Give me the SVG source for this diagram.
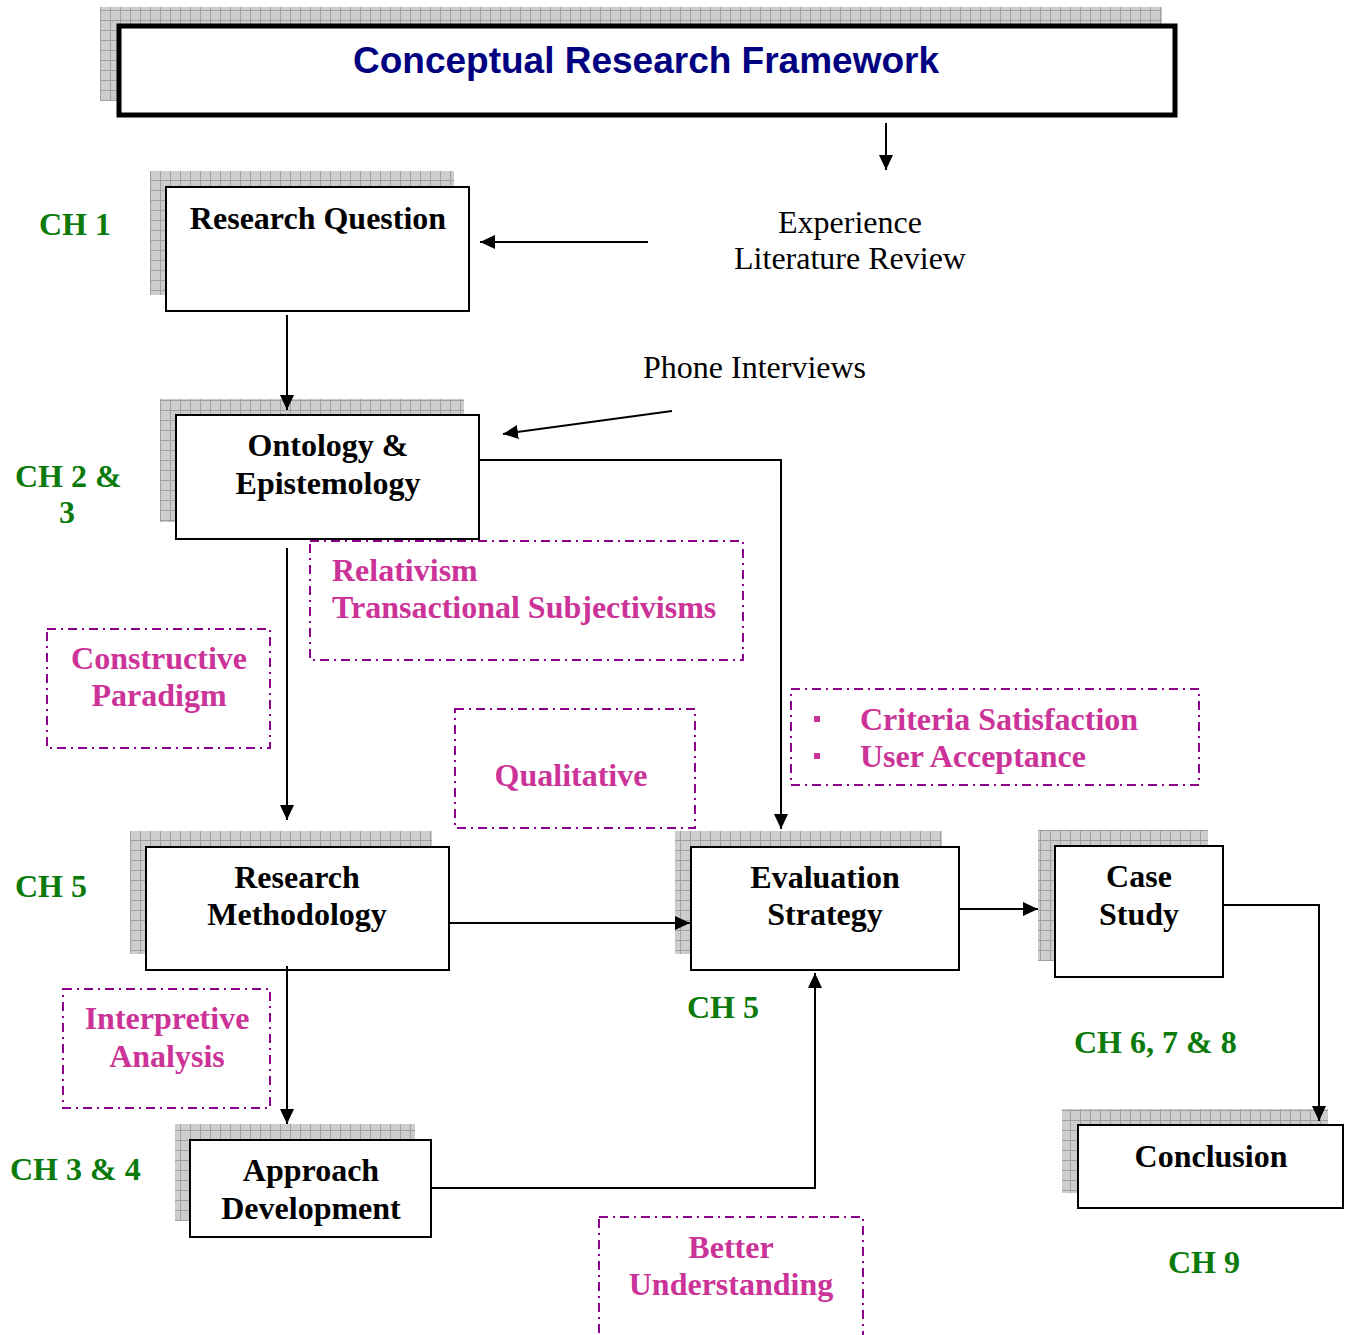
<svg xmlns="http://www.w3.org/2000/svg" width="1345" height="1335" viewBox="0 0 1345 1335">
<style>
  .box { fill: #fff; stroke: #000; stroke-width: 2; }
  .shadow { fill: url(#grid); }
  .node { font-family: "Liberation Serif", "Times New Roman", serif; font-weight: bold; font-size: 32px; fill: #000; text-anchor: middle; }
  .ch { font-family: "Liberation Serif", "Times New Roman", serif; font-weight: bold; font-size: 32px; fill: #0a7a0a; }
  .note { font-family: "Liberation Serif", "Times New Roman", serif; font-size: 32px; fill: #000; }
  .pink { font-family: "Liberation Serif", "Times New Roman", serif; font-weight: bold; font-size: 32px; fill: #cc3399; }
  .dash { fill: none; stroke: #8b008b; stroke-width: 2; stroke-dasharray: 9 5 2 5; }
  .conn { fill: none; stroke: #000; stroke-width: 2; }
</style>
<defs>
  <pattern id="grid" width="10" height="10" patternUnits="userSpaceOnUse">
    <rect width="10" height="10" fill="#cdcdcd"/>
    <path d="M0 0.5 H10 M0.5 0 V10" stroke="#a0a0a0" stroke-width="1"/>
  </pattern>
  <marker id="arr" viewBox="0 0 15 14" refX="15" refY="7" markerWidth="15" markerHeight="14" markerUnits="userSpaceOnUse" orient="auto">
    <path d="M0 0 L15 7 L0 14 Z" fill="#000"/>
  </marker>
</defs>

<!-- Title -->
<g id="title">
  <rect class="shadow" x="100" y="7" width="1062" height="94"/>
  <rect x="119" y="26" width="1056" height="89" fill="#fff" stroke="#000" stroke-width="5"/>
  <text x="646" y="73" font-family="Liberation Sans, Arial, sans-serif" font-weight="bold" font-size="37" fill="#000080" text-anchor="middle">Conceptual Research Framework</text>
</g>

<!-- Research Question -->
<g id="research-question">
  <rect class="shadow" x="150" y="171" width="304" height="124"/>
  <rect class="box" x="166" y="187" width="303" height="124"/>
  <text class="node" x="318" y="229">Research Question</text>
</g>

<g id="sources">
  <text class="note" x="850" y="233" text-anchor="middle">Experience</text>
  <text class="note" x="850" y="269" text-anchor="middle">Literature Review</text>
  <text class="note" x="643" y="378">Phone Interviews</text>
</g>

<!-- Ontology & Epistemology -->
<g id="ontology">
  <rect class="shadow" x="160" y="399" width="304" height="123"/>
  <rect class="box" x="176" y="415" width="303" height="124"/>
  <text class="node" x="328" y="456">Ontology &amp;</text>
  <text class="node" x="328" y="494">Epistemology</text>
</g>

<!-- Research Methodology -->
<g id="methodology">
  <rect class="shadow" x="130" y="831" width="302" height="123"/>
  <rect class="box" x="146" y="847" width="303" height="123"/>
  <text class="node" x="297" y="888">Research</text>
  <text class="node" x="297" y="925">Methodology</text>
</g>

<!-- Evaluation Strategy -->
<g id="evaluation">
  <rect class="shadow" x="675" y="831" width="267" height="123"/>
  <rect class="box" x="691" y="847" width="268" height="123"/>
  <text class="node" x="825" y="888">Evaluation</text>
  <text class="node" x="825" y="925">Strategy</text>
</g>

<!-- Case Study -->
<g id="case-study">
  <rect class="shadow" x="1038" y="830" width="170" height="131"/>
  <rect class="box" x="1055" y="846" width="168" height="131"/>
  <text class="node" x="1139" y="887">Case</text>
  <text class="node" x="1139" y="925">Study</text>
</g>

<!-- Conclusion -->
<g id="conclusion">
  <rect class="shadow" x="1062" y="1109" width="266" height="84"/>
  <rect class="box" x="1078" y="1125" width="265" height="83"/>
  <text class="node" x="1211" y="1167">Conclusion</text>
</g>

<!-- Approach Development -->
<g id="approach">
  <rect class="shadow" x="175" y="1124" width="240" height="97"/>
  <rect class="box" x="190" y="1140" width="241" height="97"/>
  <text class="node" x="311" y="1181">Approach</text>
  <text class="node" x="311" y="1219">Development</text>
</g>

<!-- Connectors, drawn over the box shadows -->
<g id="connectors">
  <line class="conn" x1="886" y1="123" x2="886" y2="170" marker-end="url(#arr)"/>
  <line class="conn" x1="648" y1="242" x2="480" y2="242" marker-end="url(#arr)"/>
  <line class="conn" x1="287" y1="315" x2="287" y2="410" marker-end="url(#arr)"/>
  <line class="conn" x1="672" y1="411" x2="503" y2="434" marker-end="url(#arr)"/>
  <polyline class="conn" points="479,460 781,460 781,829" marker-end="url(#arr)"/>
  <line class="conn" x1="287" y1="548" x2="287" y2="820" marker-end="url(#arr)"/>
  <line class="conn" x1="449" y1="923" x2="690" y2="923" marker-end="url(#arr)"/>
  <line class="conn" x1="959" y1="909" x2="1038" y2="909" marker-end="url(#arr)"/>
  <polyline class="conn" points="1223,905 1319,905 1319,1121" marker-end="url(#arr)"/>
  <line class="conn" x1="287" y1="966" x2="287" y2="1124" marker-end="url(#arr)"/>
  <polyline class="conn" points="431,1188 815,1188 815,973" marker-end="url(#arr)"/>
</g>

<!-- Chapter labels -->
<g id="chapters">
  <text class="ch" x="39" y="235">CH 1</text>
  <text class="ch" x="15" y="487">CH 2 &amp;</text>
  <text class="ch" x="67" y="523" text-anchor="middle">3</text>
  <text class="ch" x="15" y="897">CH 5</text>
  <text class="ch" x="687" y="1018">CH 5</text>
  <text class="ch" x="1074" y="1053">CH 6, 7 &amp; 8</text>
  <text class="ch" x="10" y="1180">CH 3 &amp; 4</text>
  <text class="ch" x="1168" y="1273">CH 9</text>
</g>

<!-- Annotation boxes -->
<g id="relativism">
  <rect class="dash" x="310" y="541" width="433" height="119"/>
  <text class="pink" x="332" y="581">Relativism</text>
  <text class="pink" x="332" y="618">Transactional Subjectivisms</text>
</g>
<g id="constructive">
  <rect class="dash" x="47" y="629" width="223" height="119"/>
  <text class="pink" x="159" y="669" text-anchor="middle">Constructive</text>
  <text class="pink" x="159" y="706" text-anchor="middle">Paradigm</text>
</g>
<g id="qualitative">
  <rect class="dash" x="455" y="709" width="240" height="119"/>
  <text class="pink" x="571" y="786" text-anchor="middle">Qualitative</text>
</g>
<g id="criteria">
  <rect class="dash" x="791" y="689" width="408" height="96"/>
  <rect x="814" y="716" width="6" height="6" fill="#cc3399"/>
  <rect x="814" y="753" width="6" height="6" fill="#cc3399"/>
  <text class="pink" x="860" y="730">Criteria Satisfaction</text>
  <text class="pink" x="860" y="767">User Acceptance</text>
</g>
<g id="interpretive">
  <rect class="dash" x="63" y="989" width="207" height="119"/>
  <text class="pink" x="167" y="1029" text-anchor="middle">Interpretive</text>
  <text class="pink" x="167" y="1067" text-anchor="middle">Analysis</text>
</g>
<g id="better">
  <rect class="dash" x="599" y="1217" width="264" height="130"/>
  <text class="pink" x="731" y="1258" text-anchor="middle">Better</text>
  <text class="pink" x="731" y="1295" text-anchor="middle">Understanding</text>
</g>
</svg>
